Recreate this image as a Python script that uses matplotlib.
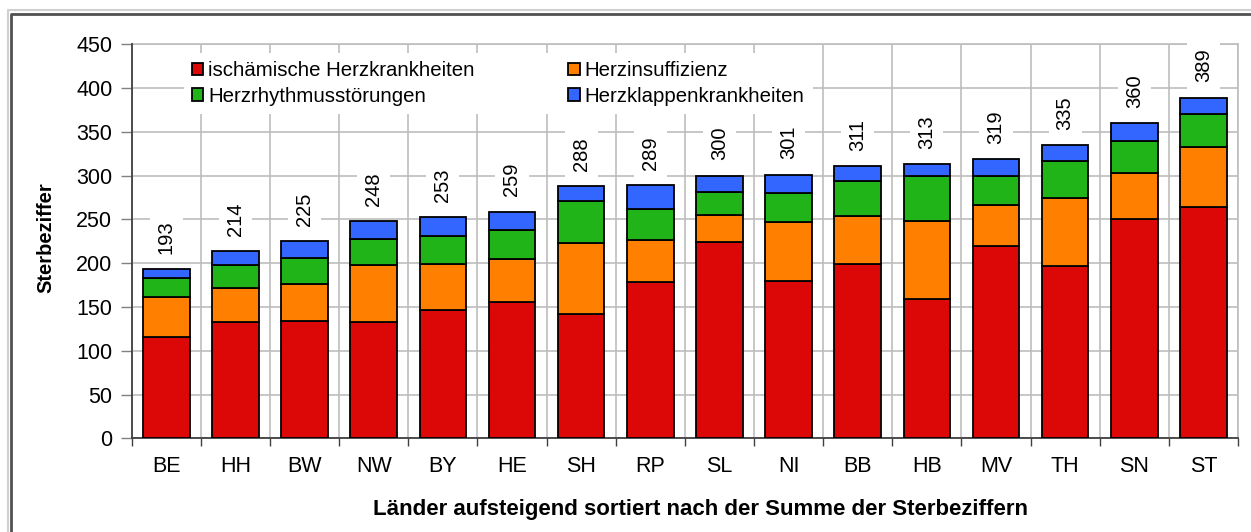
import matplotlib
matplotlib.use("Agg")
import matplotlib.pyplot as plt
from matplotlib.patches import Patch
from matplotlib.lines import Line2D
import numpy as np

# ---- data ----
laender = ["BE", "HH", "BW", "NW", "BY", "HE", "SH", "RP", "SL", "NI",
           "BB", "HB", "MV", "TH", "SN", "ST"]
ischaemisch = [116, 133, 134, 133, 147, 156, 142, 178, 224, 180, 199, 159, 220, 197, 251, 264]
insuffizienz = [45, 39, 42, 65, 52, 49, 81, 49, 31, 67, 55, 89, 47, 77, 52, 69]
rhythmus = [22, 26, 30, 30, 32, 33, 48, 35, 26, 33, 40, 52, 33, 43, 36, 37]
klappen = [10, 16, 19, 20, 22, 21, 17, 27, 19, 21, 17, 13, 19, 18, 21, 19]
summen = [193, 214, 225, 248, 253, 259, 288, 289, 300, 301, 311, 313, 319, 335, 360, 389]

serien = ["ischämische Herzkrankheiten", "Herzinsuffizienz",
          "Herzrhythmusstörungen", "Herzklappenkrankheiten"]
farben = ["#DC0808", "#FF8000", "#20B418", "#3366FF"]

yticks = [0, 50, 100, 150, 200, 250, 300, 350, 400, 450]
ylabel = "Sterbeziffer"
xlabel = "Länder aufsteigend sortiert nach der Summe der Sterbeziffern"

plt.rcParams["font.family"] = ["Liberation Sans", "DejaVu Sans"]

W, H = 1251, 532
fig = plt.figure(figsize=(W / 100, H / 100), dpi=100)
fig.patch.set_facecolor("white")

ax = fig.add_axes([131.7 / W, 1 - 438.3 / H, (1238 - 131.7) / W, (438.3 - 44.3) / H])

x = np.arange(len(laender))
bw = 0.675
bottom = np.zeros(len(laender))
for vals, col in zip([ischaemisch, insuffizienz, rhythmus, klappen], farben):
    v = np.array(vals, dtype=float)
    ax.bar(x, v, bw, bottom=bottom, color=col, edgecolor="black", linewidth=1.3, zorder=3)
    bottom += v

for xi, s in zip(x, summen):
    ax.annotate(str(s), (xi, s), xytext=(0, 11), textcoords="offset points",
                rotation=90, ha="center", va="bottom", fontsize=14.5, color="black",
                bbox=dict(boxstyle="square,pad=0.35", facecolor="white", edgecolor="none"),
                zorder=5)

ax.set_xlim(-0.5, len(laender) - 0.5)
ax.set_ylim(0, 450)
ax.set_yticks(yticks)
ax.set_xticks(x)
ax.set_xticklabels(laender)
ax.set_xticks(np.arange(len(laender) + 1) - 0.5, minor=True)
ax.tick_params(axis="x", which="major", length=0, labelsize=15.5, pad=13)
ax.tick_params(axis="x", which="minor", length=6, width=1, color="#404040", direction="out")
ax.tick_params(axis="y", which="major", length=8, width=1, color="#808080", labelsize=15.5, pad=6)
ax.set_axisbelow(True)
ax.grid(axis="y", which="major", color="#BDBDBD", linewidth=1.2)
ax.grid(axis="x", which="minor", color="#BDBDBD", linewidth=1.2)
ax.grid(axis="x", which="major", visible=False)
for side in ["left", "bottom"]:
    ax.spines[side].set_color("#404040")
    ax.spines[side].set_linewidth(1.3)
for side in ["top", "right"]:
    ax.spines[side].set_color("#BDBDBD")
    ax.spines[side].set_linewidth(1.2)
    ax.spines[side].set_zorder(0.5)

handles = [Patch(facecolor=farben[i], edgecolor="black", linewidth=1.3) for i in [0, 2, 1, 3]]
labels = [serien[i] for i in [0, 2, 1, 3]]
leg = ax.legend(handles, labels, ncol=2, loc="upper left",
                bbox_to_anchor=(183.5 / W, 1 - 53 / H), bbox_transform=fig.transFigure,
                borderaxespad=0, fontsize=14.7, frameon=True, fancybox=False,
                handlelength=0.55, handleheight=0.55, handletextpad=0.25,
                columnspacing=4.6, labelspacing=0.32, borderpad=0.4)
leg.get_frame().set_facecolor("white")
leg.get_frame().set_edgecolor("none")
leg.get_frame().set_alpha(1)
leg.set_zorder(4)

fig.text(46 / W, 1 - 238 / H, ylabel, rotation=90, ha="center", va="center",
         fontsize=14.5, fontweight="bold")
fig.text(700.5 / W, 1 - 510 / H, xlabel, ha="center", va="center",
         fontsize=16, fontweight="bold")

# outer frame (only top and left visible)
fig.add_artist(Line2D([7.5 / W, 7.5 / W, 1], [0, 1 - 10 / H, 1 - 10 / H],
                      transform=fig.transFigure, color="#D0D0D0", linewidth=1.5))
fig.add_artist(Line2D([10.8 / W, 10.8 / W, 1], [0, 1 - 13.8 / H, 1 - 13.8 / H],
                      transform=fig.transFigure, color="#505050", linewidth=2.0))

fig.savefig("out.png", dpi=100)
